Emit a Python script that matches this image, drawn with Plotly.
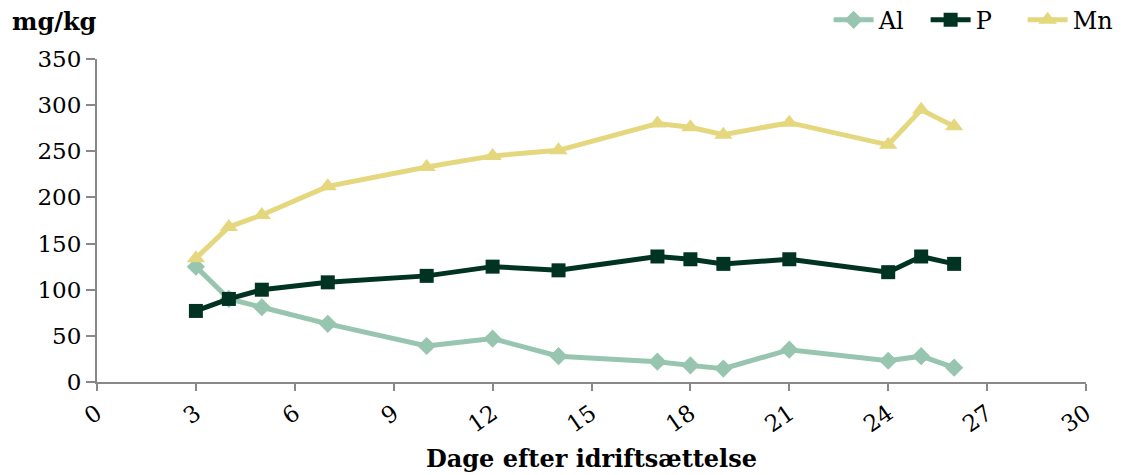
import plotly.graph_objects as go

days = [3, 4, 5, 7, 10, 12, 14, 17, 18, 19, 21, 24, 25, 26]
al = [125, 90, 81, 63, 39, 47, 28, 22, 18, 14.5, 35, 23, 28, 15.5]
p = [77, 90, 100, 108, 115, 125, 121, 136, 133, 128, 133, 119, 136, 128]
mn = [134, 168, 181, 212, 233, 245, 251, 280, 276, 268, 281, 257, 295, 277]

x_ticks = [0, 3, 6, 9, 12, 15, 18, 21, 24, 27, 30]
y_ticks = [0, 50, 100, 150, 200, 250, 300, 350]

FONT = "DejaVu Serif"

fig = go.Figure()
fig.add_trace(go.Scatter(x=days, y=al, name="Al", mode="lines+markers",
                         line=dict(color="#97C5AF", width=5),
                         marker=dict(symbol="diamond", size=14, color="#97C5AF")))
fig.add_trace(go.Scatter(x=days, y=p, name="P", mode="lines+markers",
                         line=dict(color="#003322", width=5),
                         marker=dict(symbol="square", size=14, color="#003322")))
fig.add_trace(go.Scatter(x=days, y=mn, name="Mn", mode="lines+markers",
                         line=dict(color="#E5D77E", width=5),
                         marker=dict(symbol="triangle-up", size=16, color="#E5D77E")))

fig.update_layout(
    width=1120, height=467,
    margin=dict(l=89, r=42, t=51, b=93, autoexpand=False),
    paper_bgcolor="white", plot_bgcolor="white",
    font=dict(family=FONT, size=23, color="black"),
    showlegend=True,
    legend=dict(orientation="h", x=1.034, xanchor="right", y=1.12, yanchor="middle",
                font=dict(family=FONT, size=24), bgcolor="rgba(0,0,0,0)",
                itemwidth=40, tracegroupgap=0, entrywidth=42),
    xaxis=dict(range=[0, 30], tickvals=x_ticks, ticktext=[str(v) for v in x_ticks],
               tickangle=-35, showline=True, linecolor="#888888", linewidth=2,
               ticks="outside", ticklen=7, tickwidth=2, tickcolor="#888888",
               showgrid=False, zeroline=False, automargin=False,
               title=dict(text="<b>Dage efter idriftsættelse</b>", font=dict(family=FONT, size=24),
                          standoff=14)),
    yaxis=dict(range=[0, 350], tickvals=y_ticks, showline=True, linecolor="#888888", linewidth=2,
               ticks="outside", ticklen=9, tickwidth=2, tickcolor="#888888",
               showgrid=False, zeroline=False, automargin=False),
    annotations=[dict(text="<b>mg/kg</b>", xref="paper", yref="paper", x=-0.088, y=1.115,
                      xanchor="left", yanchor="middle", showarrow=False,
                      font=dict(family=FONT, size=24))],
)

fig.write_html("out.html")
